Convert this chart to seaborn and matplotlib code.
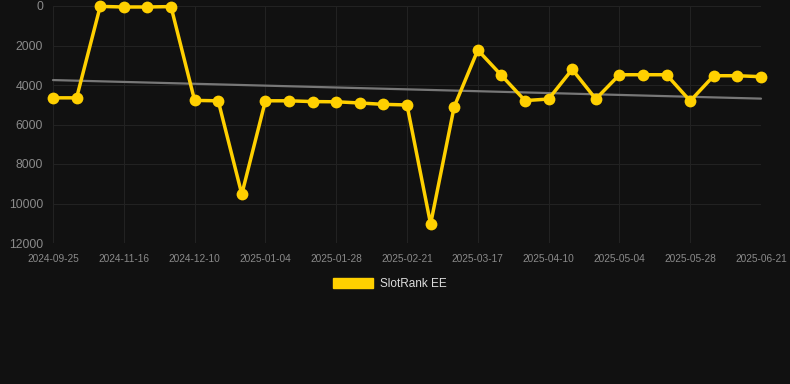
import matplotlib
matplotlib.use("Agg")
import matplotlib.pyplot as plt
import matplotlib.patches as mpatches
import seaborn as sns
import numpy as np
import pandas as pd

dates = ["2024-09-25", "2024-10-03", "2024-11-08", "2024-11-16", "2024-11-24", "2024-12-02",
         "2024-12-10", "2024-12-18", "2024-12-26", "2025-01-04", "2025-01-12", "2025-01-20",
         "2025-01-28", "2025-02-05", "2025-02-13", "2025-02-21", "2025-03-01", "2025-03-09",
         "2025-03-17", "2025-03-25", "2025-04-02", "2025-04-10", "2025-04-18", "2025-04-26",
         "2025-05-04", "2025-05-12", "2025-05-20", "2025-05-28", "2025-06-05", "2025-06-13",
         "2025-06-21"]
ranks = [4650, 4650, 20, 50, 50, 30, 4780, 4800, 9530, 4800, 4800, 4840, 4850, 4910, 4980,
         5010, 11040, 5100, 2230, 3510, 4790, 4710, 3210, 4710, 3480, 3480, 3480, 4810, 3530,
         3530, 3580]
trend_ends = [3750, 4690]  # trend line values at first and last category
series_name = "SlotRank EE"
yticks = [0, 2000, 4000, 6000, 8000, 10000, 12000]

bg = "#111111"
gold = "#FFD000"
grid_c = "#222222"

sns.set_theme(style="dark")
plt.rcParams['font.family'] = ['Liberation Sans', 'DejaVu Sans']

df = pd.DataFrame({"idx": np.arange(len(dates)), "rank": ranks})
trend_df = pd.DataFrame({"idx": [0, len(dates) - 1], "rank": trend_ends})

fig = plt.figure(figsize=(7.9, 3.84), dpi=100, facecolor=bg)
ax = fig.add_axes([53/790, 1-243/384, (761-53)/790, (243-6)/384])
ax.set_facecolor(bg)

sns.lineplot(data=trend_df, x="idx", y="rank", ax=ax, color="#777777", linewidth=1.6, zorder=2)

sns.lineplot(data=df, x="idx", y="rank", ax=ax, color=gold, linewidth=2.5,
             marker="o", markersize=8.5, markeredgewidth=0, zorder=3)
for ln in ax.lines:
    ln.set_clip_on(False)

ax.set_xlim(0, len(dates)-1)
ax.set_ylim(12000, 0)
ax.set_yticks(yticks)
ax.set_yticklabels([str(v) for v in yticks])
tick_idx = list(range(0, len(dates), 3))
ax.set_xticks(tick_idx)
ax.set_xticklabels([dates[i] for i in tick_idx])
ax.tick_params(axis="x", labelsize=7.3, length=4, width=0.8, pad=4, color=grid_c)
ax.tick_params(axis="y", labelsize=8.8, length=5.8, width=0.8, pad=1.4, color=grid_c)
for lab in ax.get_xticklabels() + ax.get_yticklabels():
    lab.set_color("#8a8a8a")
ax.grid(True, color=grid_c, linewidth=0.8)
for s in ax.spines.values():
    s.set_visible(False)
ax.set_xlabel("")
ax.set_ylabel("")

handle = mpatches.Patch(color=gold, label=series_name)
fig.legend(handles=[handle], loc="center", bbox_to_anchor=(390/790, 1-284/384),
           frameon=False, fontsize=8.5, labelcolor="#dddddd",
           handlelength=3.4, handleheight=1.0, handletextpad=0.6)

fig.savefig("out.png", dpi=100, facecolor=bg)
